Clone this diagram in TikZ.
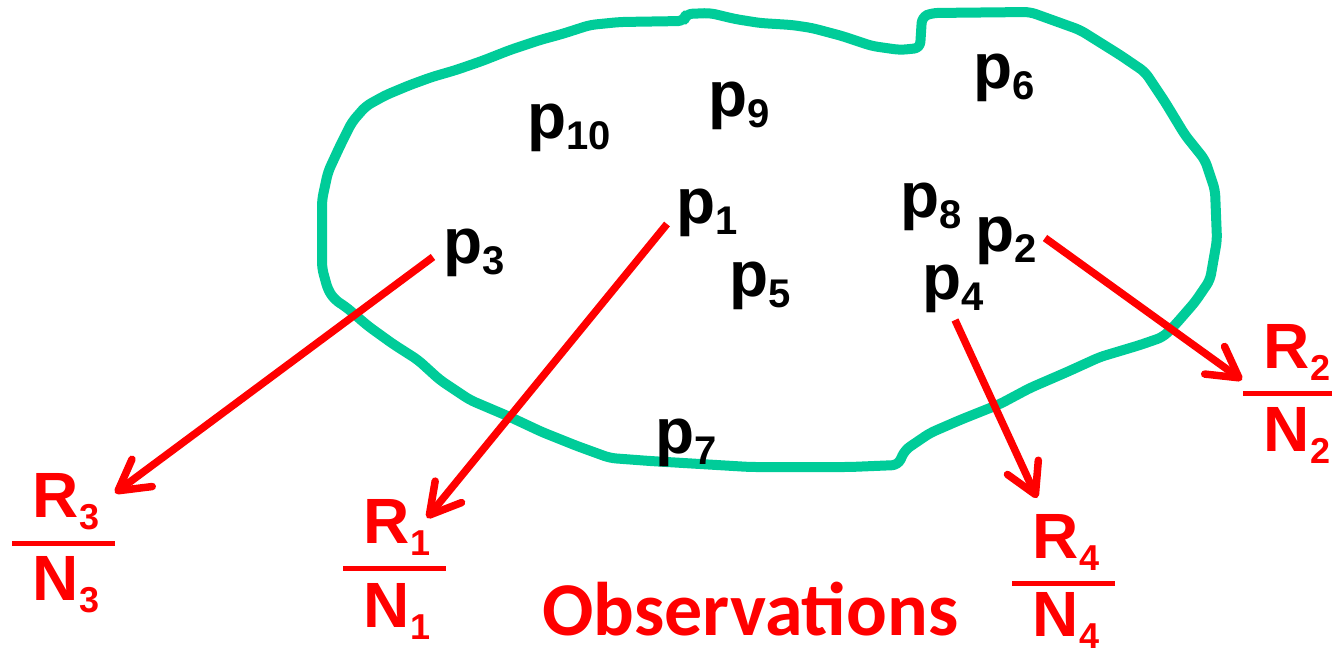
\documentclass[tikz,border=0pt]{standalone}
\usepackage{fontspec}
\setmainfont{Liberation Sans}
\newfontfamily\obsfont{Carlito}
\usetikzlibrary{arrows.meta}
\definecolor{blobgreen}{RGB}{0,204,153}
\definecolor{obsred}{RGB}{255,0,0}
\newcommand\psub[1]{\raisebox{-11pt}{\fontsize{40}{40}\selectfont #1}}
\newcommand\fsub[1]{\raisebox{-12pt}{\fontsize{36}{36}\selectfont #1}}
\tikzset{
  plabel/.style={inner sep=0pt, anchor=base west, font=\fontsize{64}{64}\selectfont\bfseries},
  flabel/.style={inner sep=0pt, anchor=base, text=obsred, font=\fontsize{64}{64}\selectfont\bfseries},
  fbar/.style={inner sep=0pt, minimum width=103pt, minimum height=5pt, fill=obsred},
  obsarrow/.style={draw=obsred, line width=7.5pt, -{Straight Barb[length=30pt,width=34pt,line width=7.5pt,round]}},
  blob/.style={draw=blobgreen, line width=10pt, rounded corners=6pt, line join=round}
}
\begin{document}
\begin{tikzpicture}[x=1pt,y=-1pt]
\useasboundingbox (0,0) rectangle (1332,655);
% blob outline
\draw[blob] (335,300) -- (328,290) -- (322,268) -- (322,200) -- (328,172) -- (340,146) -- (352,122) -- (366,106) -- (386,95) -- (410,85) -- (432,77) -- (456,70) -- (482,61) -- (510,50) -- (540,40) -- (562,34) -- (590,25) -- (620,22) -- (684,21) -- (686,14) -- (710,13) -- (735,19) -- (760,23) -- (792,25) -- (812,28) -- (842,36) -- (872,46) -- (900,50) -- (920,48) -- (922,17) -- (932,13) -- (1030,12) -- (1080,30) -- (1120,55) -- (1145,72) -- (1165,102) -- (1185,135) -- (1205,160) -- (1215,190) -- (1217,240) -- (1210,280) -- (1195,302) -- (1175,325) -- (1163,337) -- (1140,345) -- (1100,357) -- (1067,372) -- (1030,388) -- (1000,404) -- (960,420) -- (930,433) -- (905,450) -- (898,465) -- (850,467) -- (750,467) -- (650,461) -- (610,458) -- (577,446) -- (542,432) -- (510,417) -- (470,400) -- (440,380) -- (418,360) -- (393,344) -- (368,326) -- (346,307) -- cycle;
% point labels
\node[plabel] (p10) at (527,139) {p\psub{10}};
\node[plabel] (p9) at (708,117) {p\psub{9}};
\node[plabel] (p6) at (973,89) {p\psub{6}};
\node[plabel] (p1) at (676,223) {p\psub{1}};
\node[plabel] (p8) at (900,217) {p\psub{8}};
\node[plabel] (p2) at (975,251) {p\psub{2}};
\node[plabel] (p3) at (443,263) {p\psub{3}};
\node[plabel] (p5) at (729,296) {p\psub{5}};
\node[plabel] (p4) at (922,299) {p\psub{4}};
\node[plabel] (p7) at (655,453) {p\psub{7}};
% fractions
\node[fbar] (b3) at (63.5,543) {};
\node[flabel] (r3) at (66,517) {R\fsub{3}};
\node[flabel] (n3) at (66,600) {N\fsub{3}};
\node[fbar] (b1) at (394,568) {};
\node[flabel] (r1) at (397,543) {R\fsub{1}};
\node[flabel] (n1) at (397,627) {N\fsub{1}};
\node[fbar] (b4) at (1063.5,583) {};
\node[flabel] (r4) at (1066,558) {R\fsub{4}};
\node[flabel] (n4) at (1066,636) {N\fsub{4}};
\node[fbar] (b2) at (1294.5,393) {};
\node[flabel] (r2) at (1297,368) {R\fsub{2}};
\node[flabel] (n2) at (1297,451) {N\fsub{2}};
% arrow end points
\coordinate (s3) at (433,257);
\coordinate (e3) at (115,493);
\coordinate (s1) at (667,224);
\coordinate (e1) at (427,518);
\coordinate (s2) at (1045,238);
\coordinate (e2) at (1242,380);
\coordinate (s4) at (955,320);
\coordinate (e4) at (1037,498);
\draw[obsarrow] (s3) -- (e3);
\draw[obsarrow] (s1) -- (e1);
\draw[obsarrow] (s2) -- (e2);
\draw[obsarrow] (s4) -- (e4);
% caption
\node[inner sep=0pt, anchor=base west, text=obsred, font=\obsfont\fontsize{76}{76}\selectfont\bfseries] (obs) at (542,635) {Observations};
\end{tikzpicture}
\end{document}
